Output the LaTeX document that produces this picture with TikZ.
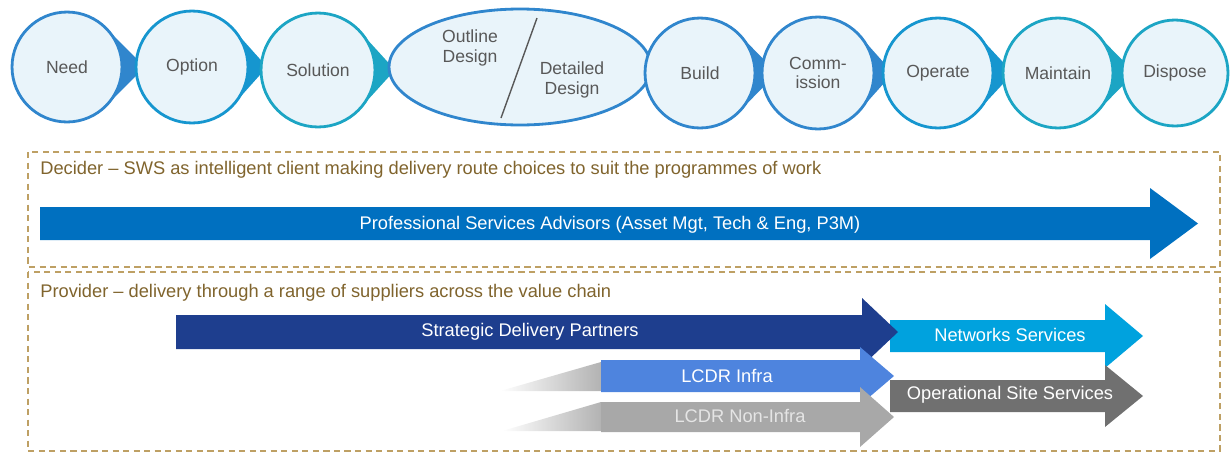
\documentclass[tikz,border=0pt]{standalone}
\usepackage{fontspec}
\setmainfont{Liberation Sans}
\usetikzlibrary{shapes.geometric,calc}
\definecolor{stageblue}{RGB}{48,134,205}
\definecolor{stagecyan}{RGB}{22,150,207}
\definecolor{stageteal}{RGB}{28,165,196}
\definecolor{stagefill}{RGB}{233,244,250}
\definecolor{stagetext}{RGB}{88,88,88}
\definecolor{frametan}{RGB}{190,160,100}
\definecolor{frametext}{RGB}{128,100,45}
\definecolor{psablue}{RGB}{0,112,192}
\definecolor{sdpnavy}{RGB}{30,62,142}
\definecolor{netcyan}{RGB}{0,162,222}
\definecolor{infrablue}{RGB}{78,132,222}
\definecolor{opsgray}{RGB}{112,112,112}
\definecolor{noninfra}{RGB}{168,168,168}

\tikzset{
  stage/.style={circle, fill=stagefill, line width=1.6pt, inner sep=0pt,
    text=stagetext, align=center, font=\fontsize{10}{11}\selectfont},
  frame/.style={draw=frametan, line width=0.9pt, dash pattern=on 3.5pt off 2.5pt},
  framelabel/.style={anchor=west, text=frametext, inner sep=0pt,
    font=\fontsize{10.4}{12}\selectfont},
  bartext/.style={text=white, inner sep=0pt, font=\fontsize{10.4}{12}\selectfont}
}

% block arrow: colour, tail x, head x, tip x, mid y, half body, half head
\newcommand{\blockarrow}[7]{%
  \fill[#1] (#2,#5-#6) -- (#3,#5-#6) -- (#3,#5-#7) -- (#4,#5)
    -- (#3,#5+#7) -- (#3,#5+#6) -- (#2,#5+#6) -- cycle;}

\begin{document}
\begin{tikzpicture}[x=0.02cm, y=-0.02cm]
  \useasboundingbox (0,0) rectangle (1231,454);

  % Life-cycle stages, first part
  \foreach \x/\y/\r/\t/\c/\n/\txt in {
      67/67/55/145/stageblue/need/Need,
      192/67/56/267/stagecyan/option/Option,
      318/70/57/395/stageteal/solution/Solution}{
    \pgfmathsetmacro\ang{acos(\r/(\t-\x))}
    \fill[\c] (\t,\y) -- ($(\x,\y)+(\ang:\r)$) -- ($(\x,\y)+(-\ang:\r)$) -- cycle;
    \node[stage, draw=\c, minimum size=\r*0.04cm] (\n) at (\x,\y) {\txt};
  }

  % Design stage
  \fill[stageblue] (662,67) -- (641,45) -- (641,89) -- cycle;
  \node[stage, ellipse, draw=stageblue, minimum width=5.24cm, minimum height=2.32cm]
    (design) at (520,67) {};
  \node[stage, fill=none] (outline) at (470,48) {Outline\\Design};
  \node[stage, fill=none] (detailed) at (572,80) {Detailed\\Design};
  \draw[stagetext, line width=0.8pt] ($(design.center)+(17,-49)$) -- ($(design.center)+(-19,51)$);

  % Life-cycle stages, second part
  \foreach \x/\y/\r/\t/\c/\n/\txt in {
      700/73/55/777/stageblue/build/Build,
      818/73/56/893/stageblue/commission/{Comm-\\ission},
      938/73/55/1013/stagecyan/operate/Operate,
      1058/73/55/1135/stageteal/maintain/Maintain}{
    \pgfmathsetmacro\ang{acos(\r/(\t-\x))}
    \fill[\c] (\t,\y) -- ($(\x,\y)+(\ang:\r)$) -- ($(\x,\y)+(-\ang:\r)$) -- cycle;
    \node[stage, draw=\c, minimum size=\r*0.04cm] (\n) at (\x,\y) {\txt};
  }
  \node[stage, draw=stageteal, minimum size=2.12cm] (dispose) at (1175,73) {Dispose};

  % Decider frame
  \draw[frame] (28,152) rectangle (1220,267);
  \node[framelabel] (decider) at (40,170)
    {Decider -- SWS as intelligent client making delivery route choices to suit the programmes of work};
  \blockarrow{psablue}{40}{1150}{1198}{223.5}{16.5}{35.5}
  \node[bartext] (psa) at (610,225) {Professional Services Advisors (Asset Mgt, Tech \& Eng, P3M)};

  % Provider frame
  \draw[frame] (28,272) rectangle (1220,451);
  \node[framelabel] (provider) at (40,293)
    {Provider -- delivery through a range of suppliers across the value chain};

  \blockarrow{netcyan}{890}{1105}{1143}{336}{16}{32}
  \blockarrow{opsgray}{890}{1105}{1143}{396}{16}{31}
  \blockarrow{sdpnavy}{176}{862}{898}{332}{17}{34}
  \shade[left color=white, right color=gray!60] (500,391) -- (601,362) -- (601,391) -- cycle;
  \blockarrow{infrablue}{601}{860}{894}{376}{16}{29}
  \shade[left color=white, right color=gray!60] (502,431) -- (601,402) -- (601,431) -- cycle;
  \blockarrow{noninfra}{601}{860}{894}{417}{15}{30}

  \node[bartext] (sdp) at (530,332) {Strategic Delivery Partners};
  \node[bartext] (net) at (1010,335) {Networks Services};
  \node[bartext] (ops) at (1010,395) {Operational Site Services};
  \node[bartext] (infra) at (727,376) {LCDR Infra};
  \node[bartext, text=white!90!black] (nonin) at (740,416) {LCDR Non-Infra};
\end{tikzpicture}
\end{document}
